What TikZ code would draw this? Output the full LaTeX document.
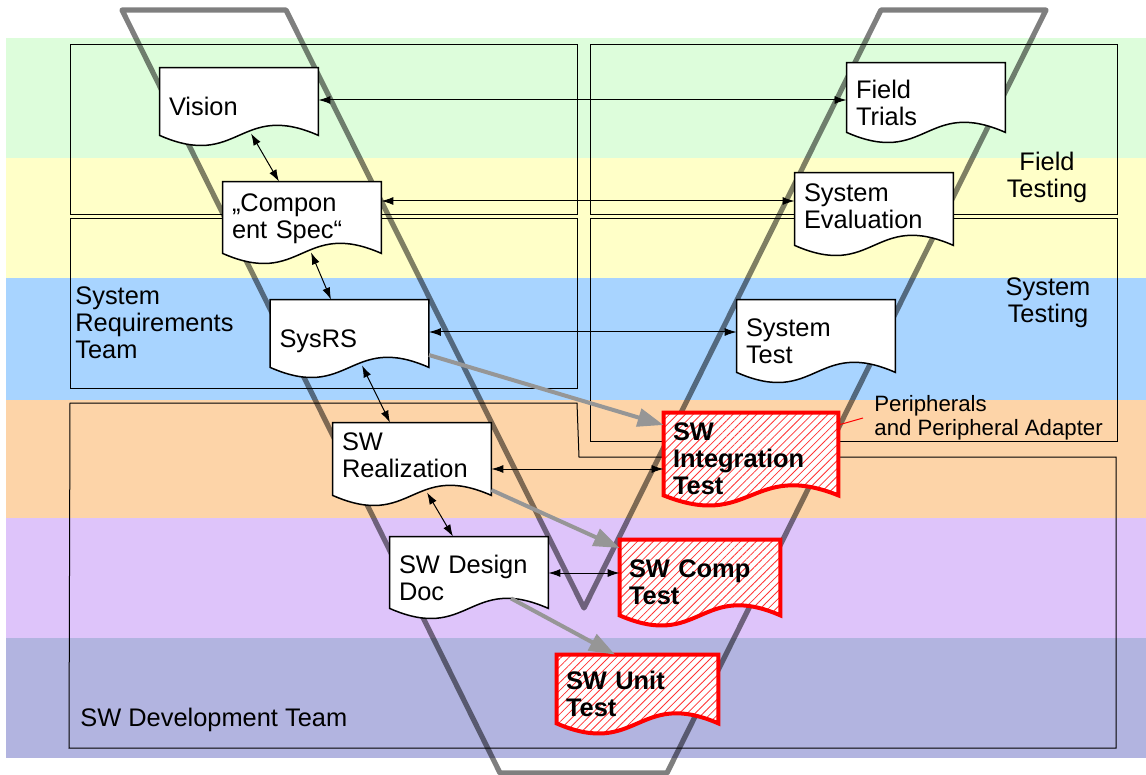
\documentclass[tikz,border=0pt]{standalone}
\usepackage{fontspec}
\setmainfont{Liberation Sans}
\usetikzlibrary{arrows.meta, calc, patterns.meta}

\definecolor{bandgreen}{RGB}{221,253,219}
\definecolor{bandyellow}{RGB}{255,255,200}
\definecolor{bandblue}{RGB}{168,212,255}
\definecolor{bandorange}{RGB}{253,212,168}
\definecolor{bandpurple}{RGB}{222,196,250}
\definecolor{bandslate}{RGB}{178,180,224}
\definecolor{flowgray}{RGB}{150,150,150}

\pgfdeclarelayer{back}
\pgfdeclarelayer{docs}
\pgfsetlayers{back,docs,main}

\newcommand{\docfont}{\fontsize{12.7}{13.5}\selectfont}

% frame of a document node, #1 = how far the wavy edge sits below the node
\newcommand{\docframe}[3][0]{%
  \begin{pgfonlayer}{docs}
    \draw[#3] (#2.north west) -- (#2.north east) -- ($(#2.south east)+(0,{#1-10})$)
      .. controls ($(#2.south)+(0,{#1-45})$) and ($(#2.south)+(0,{#1+25})$) .. ($(#2.south west)+(0,{#1-10})$) -- cycle;
  \end{pgfonlayer}}

\tikzset{
  doc/.style={inner sep=0pt, align=left, font=\docfont, minimum width=79pt, text width=70pt},
  plaindoc/.style={draw=black, line width=0.75pt, fill=white},
  testdoc/.style={draw=red, line width=2pt, preaction={fill=white}, pattern={Lines[angle=45,distance=2.8pt,line width=0.4pt]}, pattern color=red!80},
  link/.style={<->, >={Latex[length=6pt,width=4pt]}, line width=0.5pt},
  flow/.style={->, >={Triangle[length=13pt,width=9pt]}, draw=flowgray, line width=2pt},
  vee/.style={draw=black, draw opacity=0.5, line width=2.6pt, line join=round, line cap=round},
  team/.style={draw=black, line width=0.5pt},
}

\begin{document}
\begin{tikzpicture}[x=0.5pt, y=-0.5pt]
\useasboundingbox (0,0) rectangle (1146,775);

\begin{pgfonlayer}{back}
\fill[bandgreen] (6,38) rectangle (1146,158);
\fill[bandyellow] (6,158) rectangle (1146,278);
\fill[bandblue] (6,278) rectangle (1146,400);
\fill[bandorange] (6,400) rectangle (1146,518);
\fill[bandpurple] (6,518) rectangle (1146,638);
\fill[bandslate] (6,638) rectangle (1146,758);
\draw[team] (70,45) rectangle (577,215);
\draw[team] (70,219) rectangle (577,388);
\draw[team] (590,45) rectangle (1117,215);
\draw[team] (590,219) rectangle (1117,441);
\draw[team] (70,403) -- (577,403) -- (579,457) -- (1116,457) -- (1116,748) -- (69,748) -- cycle;
\draw[vee] (122,10) -- (286,10) -- (584,608) -- (881,10) -- (1046,10) -- (667,773) -- (500,773) -- cycle;
\end{pgfonlayer}

\node[doc, minimum height=38.5pt] at (239,106.5) (vision) {Vision};
\node[doc, minimum height=36.5pt] at (302,218.5) (compspec) {„Compon\\ent Spec“};
\node[doc, minimum height=41.5pt] at (349.5,341.5) (sysrs) {SysRS};
\node[doc, minimum height=32pt] at (412,455) (swreal) {SW\\Realization};
\node[doc, minimum height=40.5pt] at (469,577.5) (swdesign) {SW Design\\Doc};
\node[doc, minimum height=39.5pt] at (926,102.5) (field) {Field\\Trials};
\node[doc, minimum height=33pt] at (874,206) (syseval) {System\\Evaluation};
\node[doc, minimum height=41pt] at (816,341) (systest) {System\\Test};
\node[doc, font=\docfont\bfseries, minimum width=87pt, text width=78pt, minimum height=46pt] at (751,459) (swinteg) {SW\\Integration\\Test};
\node[doc, font=\docfont\bfseries, minimum width=80pt, text width=71pt, minimum height=42.5pt] at (700,582.5) (swcomp) {SW Comp\\Test};
\node[doc, font=\docfont\bfseries, minimum width=80.5pt, text width=71.5pt, minimum height=39pt] at (637.5,694) (swunit) {SW Unit\\Test};

\docframe{vision}{plaindoc}
\docframe[8]{compspec}{plaindoc}
\docframe[-6]{sysrs}{plaindoc}
\docframe[18]{swreal}{plaindoc}
\docframe{swdesign}{plaindoc}
\docframe{field}{plaindoc}
\docframe[16]{syseval}{plaindoc}
\docframe{systest}{plaindoc}
\docframe{swinteg}{testdoc}
\docframe{swcomp}{testdoc}
\docframe{swunit}{testdoc}

\node[font=\docfont, align=center] at (1047,177) (fieldlbl) {Field\\Testing};
\node[font=\docfont, align=center] at (1048,303) (systestlbl) {System\\Testing};
\node[font=\docfont, align=left, anchor=west, inner sep=0pt] at (75,323) (reqteam) {System\\Requirements\\Team};
\node[font=\docfont, anchor=base west, inner sep=0pt] at (80,726) (devteam) {SW Development Team};
\node[font=\fontsize{11.1}{12}\selectfont, align=left, anchor=west, inner sep=0pt] at (874,417.5) (periph) {Peripherals\\and Peripheral Adapter};
\coordinate (perilead) at (863,418);
\draw[red, line width=0.5pt] ([yshift=17pt]swinteg.east) -- (perilead);

\draw[link] ([yshift=3.25pt]vision.east) -- ([yshift=3.25pt]vision.east -| field.west);
\draw[link] ([yshift=8.75pt]compspec.east) -- ([yshift=8.75pt]compspec.east -| syseval.west);
\draw[link] ([yshift=4.75pt]sysrs.east) -- ([yshift=4.75pt]sysrs.east -| systest.west);
\draw[link] ([yshift=-7pt]swreal.east) -- ([yshift=-7pt]swreal.east -| swinteg.west);
\draw[link] ([yshift=2.25pt]swdesign.east) -- ([yshift=2.25pt]swdesign.east -| swcomp.west);

\draw[link] ([xshift=6pt,yshift=6pt]vision.south) -- ([xshift=-11.5pt]compspec.north);
\draw[link] ([xshift=4.5pt,yshift=1.5pt]compspec.south) -- ([xshift=-9.25pt]sysrs.north);
\draw[link] ([xshift=6.25pt,yshift=9pt]sysrs.south) -- ([xshift=-11pt]swreal.north);
\draw[link] ([xshift=7.5pt,yshift=-2.5pt]swreal.south) -- ([xshift=-8pt]swdesign.north);

\draw[flow] ([yshift=-6.75pt]sysrs.east) -- ([yshift=17pt]swinteg.west);
\draw[flow] ([yshift=-17.5pt]swreal.east) -- ([yshift=17.25pt]swcomp.west);
\draw[flow] ([xshift=21pt,yshift=10pt]swdesign.south) -- ([xshift=-11.25pt]swunit.north);
\end{tikzpicture}
\end{document}
